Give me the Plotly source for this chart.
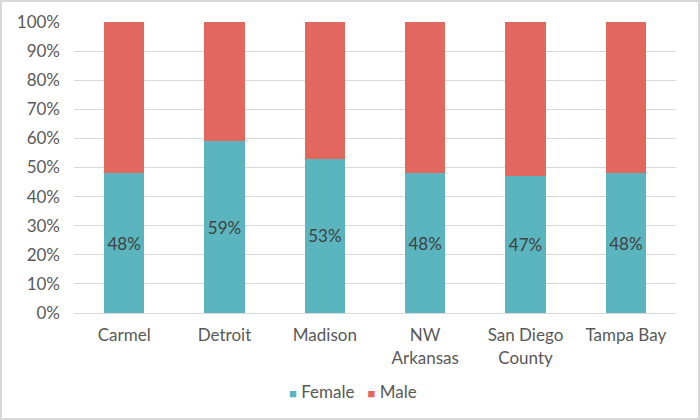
import plotly.graph_objects as go

categories = ["Carmel", "Detroit", "Madison", "NW<br>Arkansas", "San Diego<br>County", "Tampa Bay"]
female = [48, 59, 53, 48, 47, 48]
male = [52, 41, 47, 52, 53, 52]
female_labels = [f"{v}%" for v in female]
tick_vals = [0, 10, 20, 30, 40, 50, 60, 70, 80, 90, 100]
tick_text = [f"{v}%" for v in tick_vals]

FONT = "Lato, Open Sans, sans-serif"
C_F = "#5BB5BE"
C_M = "#E1675F"

fig = go.Figure()
fig.add_trace(go.Bar(x=categories, y=female, name="Female", marker=dict(color=C_F, line=dict(width=0)),
                     text=female_labels, textposition="inside", insidetextanchor="middle",
                     textfont=dict(color="#404040", size=17, family=FONT), hoverinfo="skip"))
fig.add_trace(go.Bar(x=categories, y=male, name="Male", marker=dict(color=C_M, line=dict(width=0)),
                     hoverinfo="skip"))

pw, ph = 602, 291
ml, mt = 74, 22
fig.update_layout(
    width=700, height=420, barmode="stack", bargap=0.6,
    margin=dict(l=ml, r=700 - ml - pw, t=mt, b=420 - mt - ph),
    paper_bgcolor="white", plot_bgcolor="white",
    font=dict(family=FONT, color="#595959", size=17),
    showlegend=False,
    xaxis=dict(showgrid=False, showline=True, linecolor="#d9d9d9", linewidth=1, ticks="",
               ticklabelstandoff=7, tickfont=dict(size=17, color="#595959")),
    yaxis=dict(range=[0, 100], tickvals=tick_vals, ticktext=tick_text, showgrid=True,
               gridcolor="#d9d9d9", gridwidth=1, zeroline=False, showline=False, ticks="",
               ticklabelstandoff=13, tickfont=dict(size=17, color="#595959")),
    annotations=[dict(xref="paper", yref="paper", x=(353 - ml) / pw, y=(mt + ph - 391) / ph,
                      xanchor="center", yanchor="middle", showarrow=False,
                      text=f'<span style="color:{C_F};font-size:13px">■</span> Female   '
                           f'<span style="color:{C_M};font-size:13px">■</span> Male',
                      font=dict(size=17, color="#595959", family=FONT))],
    shapes=[dict(type="rect", xref="paper", yref="paper",
                 x0=(1 - ml) / pw, x1=(699 - ml) / pw,
                 y0=(mt + ph - 419) / ph, y1=(mt + ph - 1) / ph,
                 line=dict(color="#d9d9d9", width=2), fillcolor="rgba(0,0,0,0)", layer="above")],
)

fig.write_html("out.html", config={"displayModeBar": False})
with open("out.html", "r", encoding="utf-8") as f:
    html = f.read()
html = html.replace("<head>", "<head><style>html,body{margin:0;padding:0;overflow:hidden;}</style>", 1)
with open("out.html", "w", encoding="utf-8") as f:
    f.write(html)
